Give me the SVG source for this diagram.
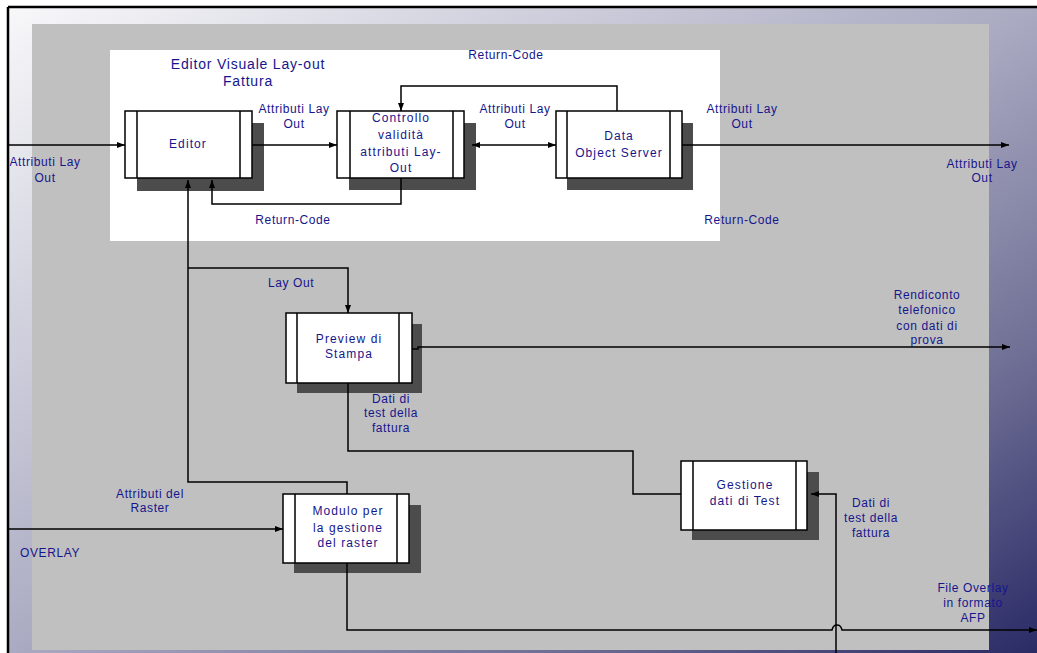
<svg xmlns="http://www.w3.org/2000/svg" width="1037" height="653" viewBox="0 0 1037 653">
<defs>
<linearGradient id="bg" x1="0" y1="0" x2="1" y2="1">
<stop offset="0" stop-color="#f8f8fa"/>
<stop offset="0.5" stop-color="#aaaac2"/>
<stop offset="0.76" stop-color="#707096"/>
<stop offset="1" stop-color="#2a2a66"/>
</linearGradient>
<marker id="ah" viewBox="0 0 8 8" refX="8" refY="4" markerWidth="8" markerHeight="8" markerUnits="userSpaceOnUse" orient="auto-start-reverse">
<path d="M0,1 L8,4 L0,7 Z" fill="#000"/>
</marker>
<style>
.t{font-family:"Liberation Sans",Arial,sans-serif;font-size:12px;fill:#16168c;text-anchor:middle;letter-spacing:0.6px}
.n{font-family:"Liberation Sans",Arial,sans-serif;font-size:12px;fill:#16168c;text-anchor:middle;letter-spacing:1.1px}
.title{font-family:"Liberation Sans",Arial,sans-serif;font-size:14px;fill:#16168c;text-anchor:middle;letter-spacing:0.8px}
.box{fill:#fff;stroke:#000;stroke-width:1.5}
.bar{stroke:#000;stroke-width:1.5}
.sh{fill:#4c4c4c}
.c{fill:none;stroke:#000;stroke-width:1.5}
.a{marker-end:url(#ah)}
</style>
</defs>
<rect x="0" y="0" width="1037" height="653" fill="#fff"/>
<rect x="8" y="7" width="1029" height="646" fill="url(#bg)"/>
<rect x="32" y="24" width="957" height="626" fill="#c0c0c0"/>
<rect x="110" y="50" width="610" height="191" fill="#fff"/>
<path d="M8,7 H1037 M8,7 V653" stroke="#000" stroke-width="2.5" fill="none"/>

<text class="title" x="248" y="69">Editor Visuale Lay-out</text>
<text class="title" x="248" y="86">Fattura</text>

<g id="editor">
<rect class="sh" x="137" y="123" width="127" height="68"/>
<rect class="box" x="125" y="111" width="127" height="67"/>
<path class="bar" d="M137,111 V178 M240,111 V178"/>
<text class="n" x="188" y="148">Editor</text>
</g>
<g id="controllo">
<rect class="sh" x="349" y="123" width="127" height="67"/>
<rect class="box" x="337" y="111" width="127" height="67"/>
<path class="bar" d="M350,111 V178 M453,111 V178"/>
<text class="n" x="401" y="122">Controllo</text>
<text class="n" x="401" y="139">validità</text>
<text class="n" x="401" y="156">attributi Lay-</text>
<text class="n" x="401" y="172">Out</text>
</g>
<g id="dataobject">
<rect class="sh" x="567" y="123" width="126" height="67"/>
<rect class="box" x="556" y="111" width="126" height="67"/>
<path class="bar" d="M567,111 V178 M670,111 V178"/>
<text class="n" x="619" y="140">Data</text>
<text class="n" x="619" y="157">Object Server</text>
</g>
<g id="preview">
<rect class="sh" x="297" y="324" width="125" height="69"/>
<rect class="box" x="286" y="313" width="126" height="70"/>
<path class="bar" d="M297,313 V383 M399,313 V383"/>
<text class="n" x="349" y="343">Preview di</text>
<text class="n" x="349" y="358">Stampa</text>
</g>
<g id="modulo">
<rect class="sh" x="294" y="505" width="127" height="68"/>
<rect class="box" x="283" y="494" width="126" height="69"/>
<path class="bar" d="M295,494 V563 M397,494 V563"/>
<text class="n" x="348" y="515">Modulo per</text>
<text class="n" x="348" y="532">la gestione</text>
<text class="n" x="348" y="547">del raster</text>
</g>
<g id="gestione">
<rect class="sh" x="692" y="472" width="127" height="68"/>
<rect class="box" x="681" y="461" width="126" height="69"/>
<path class="bar" d="M693,461 V530 M796,461 V530"/>
<text class="n" x="745" y="489">Gestione</text>
<text class="n" x="745" y="505">dati di Test</text>
</g>

<g id="connectors">
<path class="c a" d="M8,145 H125"/>
<path class="c a" d="M252,145 H337"/>
<path class="c a" d="M472,145 H556" marker-start="url(#ah)"/>
<path class="c a" d="M682,145 H1009"/>
<path class="c a" d="M617,111 V86 H401 V111"/>
<path class="c a" d="M401,178 V204 H212 V180"/>
<path class="c a" d="M347,494 V482 H188 V180"/>
<path class="c a" d="M188,268 H348 V313"/>
<path class="c a" d="M412,349 H418 V347 H1010"/>
<path class="c" d="M348,383 V451 H633 V494 H681"/>
<path class="c a" d="M836,653 V494 H811"/>
<path class="c a" d="M8,529 H283"/>
<path class="c a" d="M347,563 V630 H832 Q833,625 837,625 Q841,625 842,630 H1037"/>
</g>

<g id="labels">
<text class="t" x="45" y="166">Attributi Lay</text>
<text class="t" x="45" y="182">Out</text>
<text class="t" x="294" y="113">Attributi Lay</text>
<text class="t" x="294" y="128">Out</text>
<text class="t" x="506" y="59">Return-Code</text>
<text class="t" x="515" y="113">Attributi Lay</text>
<text class="t" x="515" y="128">Out</text>
<text class="t" x="742" y="113">Attributi Lay</text>
<text class="t" x="742" y="128">Out</text>
<text class="t" x="982" y="168">Attributi Lay</text>
<text class="t" x="982" y="182">Out</text>
<text class="t" x="293" y="224">Return-Code</text>
<text class="t" x="742" y="224">Return-Code</text>
<text class="t" x="291" y="287">Lay Out</text>
<text class="t" x="927" y="299">Rendiconto</text>
<text class="t" x="927" y="314">telefonico</text>
<text class="t" x="927" y="330">con dati di</text>
<text class="t" x="927" y="344">prova</text>
<text class="t" x="391" y="403">Dati di</text>
<text class="t" x="391" y="417">test della</text>
<text class="t" x="391" y="432">fattura</text>
<text class="t" x="150" y="498">Attributi del</text>
<text class="t" x="150" y="512">Raster</text>
<text class="t" x="50" y="557">OVERLAY</text>
<text class="t" x="871" y="507">Dati di</text>
<text class="t" x="871" y="522">test della</text>
<text class="t" x="871" y="537">fattura</text>
<text class="t" x="973" y="592">File Overlay</text>
<text class="t" x="973" y="607">in formato</text>
<text class="t" x="973" y="622">AFP</text>
</g>
</svg>
